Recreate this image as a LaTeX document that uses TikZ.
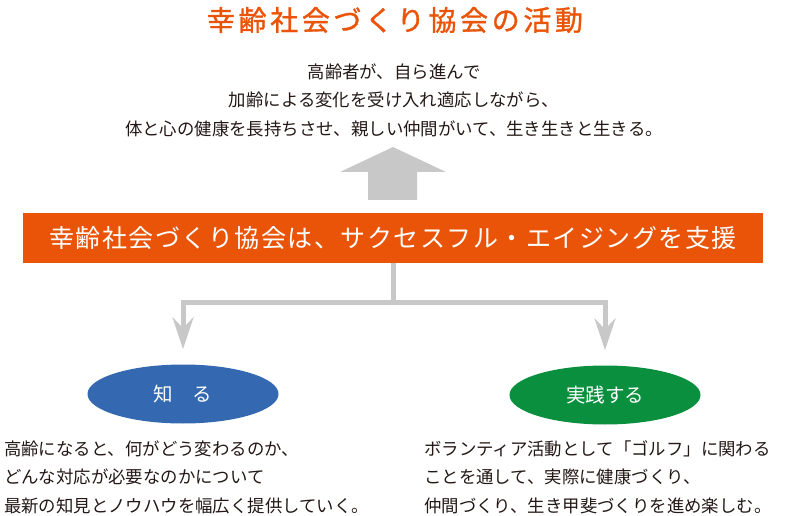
\documentclass[tikz,border=0pt]{standalone}
\usepackage{fontspec}
\setmainfont{Noto Sans CJK JP}
\newfontfamily\titlefont[FakeBold=1.2, LetterSpace=13]{Noto Sans CJK JP}
\usepackage{tikz}
\usetikzlibrary{arrows.meta, positioning, shapes.geometric}
\usepackage{xcolor}
\definecolor{kouorange}{RGB}{233,84,8}
\definecolor{kougray}{RGB}{200,200,200}
\definecolor{koublue}{RGB}{52,104,176}
\definecolor{kougreen}{RGB}{9,143,62}
\definecolor{koutext}{RGB}{35,24,21}

\begin{document}
\begin{tikzpicture}[x=1pt, y=-1pt,
  bodytext/.style={text=koutext, inner sep=0pt, font=\fontsize{17.4}{28.5}\selectfont},
  pill/.style={ellipse, minimum width=191pt, minimum height=59pt, inner sep=0pt,
    text=white, font=\fontsize{19.5}{20}\selectfont},
  grayline/.style={draw=kougray, line width=5pt},
  grayarrow/.style={grayline, -{Stealth[length=32pt, width=21pt, inset=11pt]}}
]
  \useasboundingbox (0,0) rectangle (788,516);

  % Title and aim
  \node[text=kouorange, inner sep=0pt, font=\titlefont\fontsize{28}{30}\selectfont]
    (title) at (395,20) {幸齢社会づくり協会の活動};
  \node[bodytext, align=center] (aim) at (394,100)
    {高齢者が、自ら進んで\\加齢による変化を受け入れ適応しながら、\\体と心の健康を長持ちさせ、親しい仲間がいて、生き生きと生きる。};

  % Support banner
  \node[fill=kouorange, minimum width=740pt, minimum height=50pt, inner sep=0pt,
    text=white, font=\fontsize{25}{26}\selectfont\addfontfeature{LetterSpace=6}] (support) at (393,238)
    {幸齢社会づくり協会は、サクセスフル・エイジングを支援};

  % Block arrow up
  \fill[kougray] (368,200) -- (368,172) -- (340,172) -- (393,147)
    -- (446,172) -- (417,172) -- (417,200) -- cycle;

  % Two pillars
  \node[pill, fill=koublue] (know) at (183,394) {知　る};
  \node[pill, fill=kougreen] (practice) at (605,395) {実践する};
  \coordinate (knowtip) at ([yshift=15pt]know.north);
  \coordinate (practicetip) at ([yshift=15pt]practice.north);

  % Branching connector
  \draw[grayline] (support.south) -- ++(0,39) coordinate (fork);
  \draw[grayarrow] (fork) -| (knowtip);
  \draw[grayarrow] (fork) -| (practicetip);

  % Descriptions
  \node[bodytext, align=left, anchor=west] (knowtext) at (4,477)
    {高齢になると、何がどう変わるのか、\\どんな対応が必要なのかについて\\最新の知見とノウハウを幅広く提供していく。};
  \node[bodytext, align=left, anchor=west] (practicetext) at (424,477)
    {ボランティア活動として「ゴルフ」に関わる\\ことを通して、実際に健康づくり、\\仲間づくり、生き甲斐づくりを進め楽しむ。};
\end{tikzpicture}
\end{document}
